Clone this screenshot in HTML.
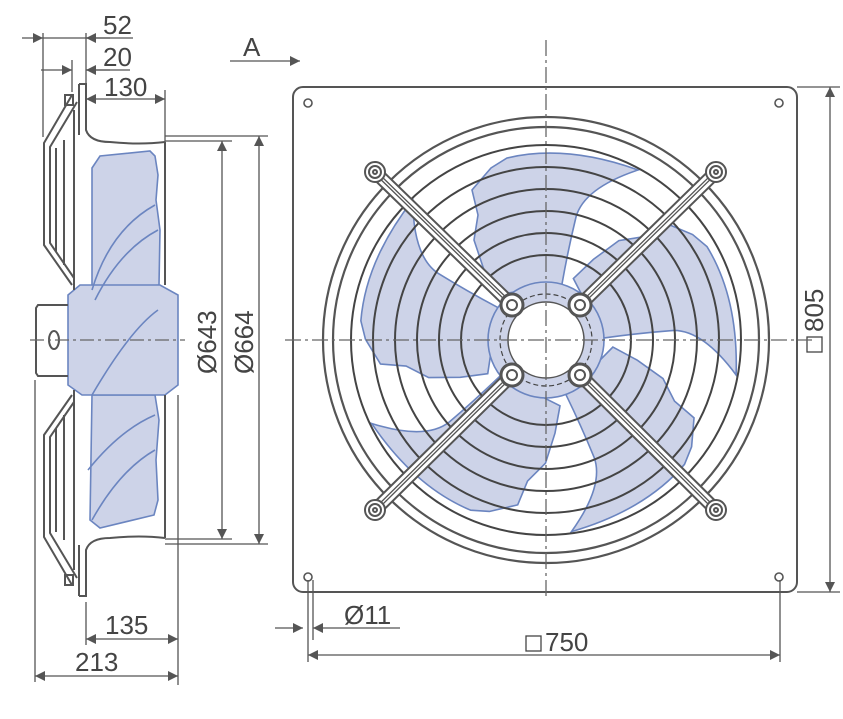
<!DOCTYPE html>
<html><head><meta charset="utf-8"><style>
html,body{margin:0;padding:0;background:#fff}
svg{display:block}
text{font-family:"Liberation Sans",Arial,sans-serif;fill:#444;font-size:26px}
</style></head><body>
<svg width="843" height="719" viewBox="0 0 843 719" xmlns="http://www.w3.org/2000/svg">
<defs>
<marker id="ar" viewBox="0 0 10 10" refX="10" refY="5" markerWidth="14" markerHeight="10" markerUnits="userSpaceOnUse" orient="auto-start-reverse"><path d="M0,0L10,5L0,10z" fill="#555"/></marker>
</defs>
<g stroke="#555" stroke-width="1.3" fill="none">
<line x1="22" y1="38" x2="43" y2="38" marker-end="url(#ar)"/>
<line x1="43" y1="38" x2="133" y2="38"/>
<line x1="110" y1="38" x2="86" y2="38" marker-end="url(#ar)"/>
<line x1="43" y1="33" x2="43" y2="137"/>
<line x1="86" y1="33" x2="86" y2="83"/>
<line x1="41" y1="70" x2="72" y2="70" marker-end="url(#ar)"/>
<line x1="110" y1="70" x2="86" y2="70" marker-end="url(#ar)"/>
<line x1="86" y1="70" x2="130" y2="70"/>
<line x1="72" y1="60" x2="72" y2="92"/>
<line x1="86" y1="99" x2="165" y2="99" marker-start="url(#ar)" marker-end="url(#ar)"/>
<line x1="165" y1="90" x2="165" y2="142"/>
<line x1="230" y1="61" x2="300" y2="61" marker-end="url(#ar)"/>
<line x1="165" y1="136" x2="268" y2="136"/>
<line x1="165" y1="141" x2="232" y2="141"/>
<line x1="165" y1="539" x2="232" y2="539"/>
<line x1="165" y1="544" x2="268" y2="544"/>
<line x1="222" y1="141" x2="222" y2="539" marker-start="url(#ar)" marker-end="url(#ar)"/>
<line x1="259" y1="136" x2="259" y2="544" marker-start="url(#ar)" marker-end="url(#ar)"/>
<line x1="86" y1="602" x2="86" y2="645"/>
<line x1="35" y1="380" x2="35" y2="682"/>
<line x1="178" y1="395" x2="178" y2="685"/>
<line x1="86" y1="639" x2="178" y2="639" marker-start="url(#ar)" marker-end="url(#ar)"/>
<line x1="35" y1="676" x2="178" y2="676" marker-start="url(#ar)" marker-end="url(#ar)"/>
<line x1="797" y1="87" x2="840" y2="87"/>
<line x1="797" y1="592" x2="840" y2="592"/>
<line x1="830" y1="87" x2="830" y2="592" marker-start="url(#ar)" marker-end="url(#ar)"/>
<line x1="308" y1="580" x2="308" y2="662"/>
<line x1="313" y1="580" x2="313" y2="640"/>
<line x1="780" y1="580" x2="780" y2="662"/>
<line x1="308" y1="655" x2="780" y2="655" marker-start="url(#ar)" marker-end="url(#ar)"/>
<line x1="275" y1="628" x2="303" y2="628" marker-end="url(#ar)"/>
<line x1="400" y1="628" x2="313" y2="628" marker-end="url(#ar)"/>
</g>
<g>
<text x="103" y="34">52</text>
<text x="103" y="66">20</text>
<text x="104" y="96">130</text>
<text x="243" y="56">A</text>
<text x="105" y="634">135</text>
<text x="75" y="671">213</text>
<text x="344" y="624">Ø11</text>
<text transform="translate(216,374) rotate(-90)">Ø643</text>
<text transform="translate(253,374) rotate(-90)">Ø664</text>
<g transform="translate(823,352) rotate(-90)"><rect x="0" y="-16" width="15" height="15" fill="none" stroke="#444" stroke-width="1.3"/><text x="20" y="0">805</text></g>
<rect x="526" y="636" width="15" height="15" fill="none" stroke="#444" stroke-width="1.3"/>
<text x="545" y="651">750</text>
</g>

<g fill="#cdd3e8" stroke="#6b85c0" stroke-width="1.6">
<path d="M92,168 L100,156 L150,151 L155,156 L158,175 L156,200 L160,230 L159,285 L92,290 Z"/>
<path d="M92,395 L155,395 L159,420 L156,460 L158,500 L154,515 L100,528 L90,520 Z"/>
<path d="M68,295 L80,285 L160,285 L178,295 L178,385 L165,395 L82,395 L68,385 Z"/>
<path d="M92,290 Q110,230 155,205 M92,520 Q120,470 155,450 M95,300 Q120,250 158,230 M92,395 Q130,330 158,310 M88,470 Q120,430 155,415" fill="none"/>
</g>
<g stroke="#555" stroke-width="2" fill="none">
<path d="M79,84 L86,84 L86,130 Q90,142 110,142 Q140,145 165,142"/>
<path d="M79,596 L86,596 L86,550 Q90,538 110,538 Q140,535 165,538"/>
<line x1="79" y1="84" x2="79" y2="135"/>
<line x1="79" y1="545" x2="79" y2="596"/>
<line x1="74" y1="110" x2="74" y2="290"/>
<line x1="74" y1="390" x2="74" y2="570"/>
<path d="M72,95 L44,143 L44,245 L72,285"/>
<path d="M77,102 L50,147 L50,243 L74,278"/>
<path d="M72,585 L44,537 L44,435 L72,395"/>
<path d="M77,578 L50,533 L50,437 L74,402"/>
<line x1="56" y1="148" x2="56" y2="252"/>
<line x1="64" y1="140" x2="64" y2="265"/>
<line x1="56" y1="428" x2="56" y2="532"/>
<line x1="64" y1="415" x2="64" y2="540"/>
<path d="M68,305 L38,305 L36,308 L36,373 L38,376 L68,376"/>
<ellipse cx="54" cy="340" rx="5" ry="9"/>
<rect x="65" y="95" width="8" height="10"/>
<rect x="65" y="575" width="8" height="10"/>
<line x1="165" y1="142" x2="165" y2="285"/>
<line x1="165" y1="395" x2="165" y2="538"/>
</g>
<line x1="30" y1="340" x2="185" y2="340" stroke="#666" stroke-width="1.3" stroke-dasharray="14,4,3,4"/>

<rect x="293" y="87" width="504" height="505" rx="10" fill="none" stroke="#555" stroke-width="2"/>
<g fill="none" stroke="#555" stroke-width="1.6">
<circle cx="308" cy="103" r="4"/><circle cx="779" cy="103" r="4"/>
<circle cx="308" cy="577" r="4"/><circle cx="779" cy="577" r="4"/>
</g>
<g fill="none" stroke="#555" stroke-width="2.2">
<circle cx="546" cy="340" r="223"/>
<circle cx="546" cy="340" r="213"/>
</g>
<g transform="translate(546,340)" fill="#cdd3e8" stroke="#6b85c0" stroke-width="1.6">
<path d="M-50,-45 L-62,-70 L-72,-100 L-68,-125 L-74,-150 L-55,-172 L-39,-182 Q20,-196 92,-170 Q38,-152 30,-123 Q22,-90 16,-56 Z"/>
<path d="M-50,-45 L-62,-70 L-72,-100 L-68,-125 L-74,-150 L-55,-172 L-39,-182 Q20,-196 92,-170 Q38,-152 30,-123 Q22,-90 16,-56 Z" transform="rotate(72)"/>
<path d="M-50,-45 L-62,-70 L-72,-100 L-68,-125 L-74,-150 L-55,-172 L-39,-182 Q20,-196 92,-170 Q38,-152 30,-123 Q22,-90 16,-56 Z" transform="rotate(144)"/>
<path d="M-50,-45 L-62,-70 L-72,-100 L-68,-125 L-74,-150 L-55,-172 L-39,-182 Q20,-196 92,-170 Q38,-152 30,-123 Q22,-90 16,-56 Z" transform="rotate(216)"/>
<path d="M-50,-45 L-62,-70 L-72,-100 L-68,-125 L-74,-150 L-55,-172 L-39,-182 Q20,-196 92,-170 Q38,-152 30,-123 Q22,-90 16,-56 Z" transform="rotate(288)"/>
<circle r="58"/>
</g>
<g fill="none" stroke="#444" stroke-width="2">
<circle cx="546" cy="340" r="195"/>
<circle cx="546" cy="340" r="173"/>
<circle cx="546" cy="340" r="151"/>
<circle cx="546" cy="340" r="129"/>
<circle cx="546" cy="340" r="107"/>
<circle cx="546" cy="340" r="85"/>
<circle cx="546" cy="340" r="46" stroke-width="1.2" stroke-dasharray="5,3"/>
</g>
<circle cx="546" cy="340" r="38" fill="#fff" stroke="#555" stroke-width="1.5"/>
<g stroke-linecap="round">
<g stroke="#555" stroke-width="14"><line x1="375" y1="172" x2="512" y2="305"/><line x1="716" y1="172" x2="580" y2="305"/><line x1="375" y1="510" x2="512" y2="375"/><line x1="716" y1="510" x2="580" y2="375"/></g>
<g stroke="#fff" stroke-width="10"><line x1="375" y1="172" x2="512" y2="305"/><line x1="716" y1="172" x2="580" y2="305"/><line x1="375" y1="510" x2="512" y2="375"/><line x1="716" y1="510" x2="580" y2="375"/></g>
<g stroke="#555" stroke-width="4"><line x1="375" y1="172" x2="512" y2="305"/><line x1="716" y1="172" x2="580" y2="305"/><line x1="375" y1="510" x2="512" y2="375"/><line x1="716" y1="510" x2="580" y2="375"/></g>
<g stroke="#fff" stroke-width="1.3"><line x1="375" y1="172" x2="512" y2="305"/><line x1="716" y1="172" x2="580" y2="305"/><line x1="375" y1="510" x2="512" y2="375"/><line x1="716" y1="510" x2="580" y2="375"/></g>
</g>
<g fill="#fff" stroke="#555" stroke-width="2">
<circle cx="375" cy="172" r="10"/><circle cx="716" cy="172" r="10"/><circle cx="375" cy="510" r="10"/><circle cx="716" cy="510" r="10"/>
<circle cx="375" cy="172" r="6"/><circle cx="716" cy="172" r="6"/><circle cx="375" cy="510" r="6"/><circle cx="716" cy="510" r="6"/>
<circle cx="375" cy="172" r="2"/><circle cx="716" cy="172" r="2"/><circle cx="375" cy="510" r="2"/><circle cx="716" cy="510" r="2"/>
<circle cx="512" cy="305" r="11" stroke-width="3"/><circle cx="580" cy="305" r="11" stroke-width="3"/><circle cx="512" cy="375" r="11" stroke-width="3"/><circle cx="580" cy="375" r="11" stroke-width="3"/>
<circle cx="512" cy="305" r="5"/><circle cx="580" cy="305" r="5"/><circle cx="512" cy="375" r="5"/><circle cx="580" cy="375" r="5"/>
</g>
<g stroke="#666" stroke-width="1.3" stroke-dasharray="16,4,3,4">
<line x1="285" y1="340" x2="812" y2="340"/>
<line x1="546" y1="40" x2="546" y2="600"/>
</g>
</svg>
</body></html>
